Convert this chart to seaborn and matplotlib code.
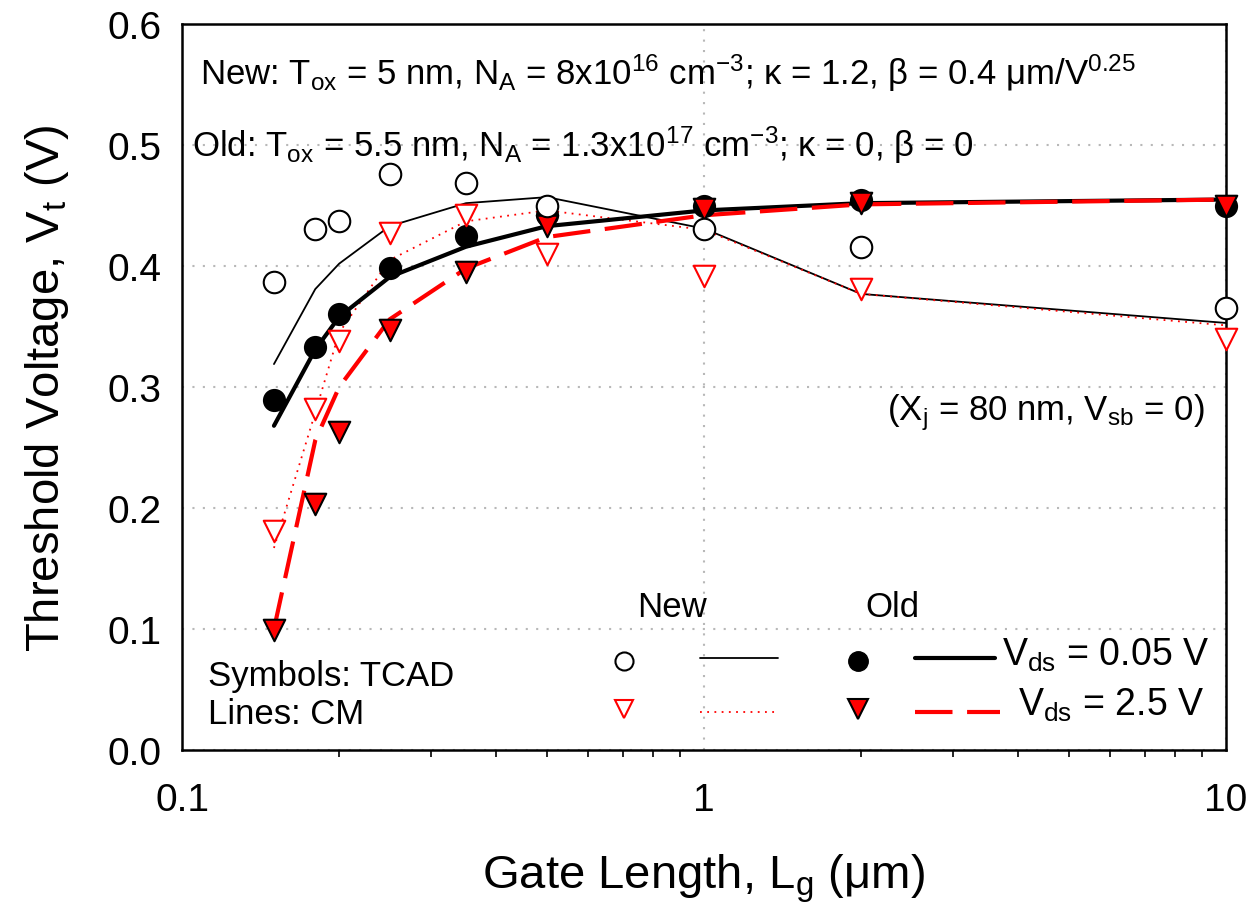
import numpy as np
import pandas as pd
import matplotlib
matplotlib.use("Agg")
import matplotlib.pyplot as plt
import matplotlib.ticker as mticker
import seaborn as sns

# ---------------- data ----------------
gate_length = [0.15, 0.18, 0.2, 0.25, 0.35, 0.5, 1.0, 2.0, 10.0]

# TCAD symbols
new_tcad_005 = [0.387, 0.431, 0.437, 0.476, 0.469, 0.450, 0.431, 0.416, 0.365]
new_tcad_25 = [0.181, 0.282, 0.338, 0.427, 0.442, 0.410, 0.392, 0.381, 0.340]
old_tcad_005 = [0.289, 0.333, 0.360, 0.398, 0.425, 0.442, 0.450, 0.455, 0.450]
old_tcad_25 = [0.099, 0.203, 0.263, 0.347, 0.395, 0.433, 0.447, 0.452, 0.450]

# CM lines
new_cm_005 = [0.319, 0.381, 0.402, 0.433, 0.452, 0.457, 0.431, 0.377, 0.353]
new_cm_25 = [0.167, 0.279, 0.345, 0.405, 0.437, 0.446, 0.430, 0.377, 0.351]
old_cm_005 = [0.268, 0.331, 0.358, 0.391, 0.416, 0.433, 0.446, 0.452, 0.455]
old_cm_25 = [0.100, 0.256, 0.300, 0.356, 0.398, 0.424, 0.442, 0.451, 0.455]

x_ticks = [0.1, 1, 10]
x_tick_labels = ["0.1", "1", "10"]
y_ticks = [0.0, 0.1, 0.2, 0.3, 0.4, 0.5, 0.6]
y_tick_labels = ["0.0", "0.1", "0.2", "0.3", "0.4", "0.5", "0.6"]

x_label = r"Gate Length, L$_\mathregular{g}$ (μm)"
y_label = r"Threshold Voltage, V$_\mathregular{t}$ (V)"
note_new = (r"New: T$_\mathregular{ox}$ = 5 nm, N$_\mathregular{A}$ = 8x10$^\mathregular{16}$ "
            r"cm$^\mathregular{−3}$; κ = 1.2, β = 0.4 μm/V$^\mathregular{0.25}$")
note_old = (r"Old: T$_\mathregular{ox}$ = 5.5 nm, N$_\mathregular{A}$ = 1.3x10$^\mathregular{17}$ "
            r"cm$^\mathregular{−3}$; κ = 0, β = 0")
note_cond = r"(X$_\mathregular{j}$ = 80 nm, V$_\mathregular{sb}$ = 0)"
legend_head = ["New", "Old"]
legend_vds = [r"V$_\mathregular{ds}$ = 0.05 V", r"V$_\mathregular{ds}$ = 2.5 V"]
legend_note = ["Symbols: TCAD", "Lines: CM"]

# ---------------- style ----------------
sns.set_style("white")
plt.rcParams["font.family"] = ["Liberation Sans", "DejaVu Sans"]
plt.rcParams["mathtext.fontset"] = "custom"
plt.rcParams["mathtext.rm"] = "Liberation Sans"
plt.rcParams["mathtext.it"] = "Liberation Sans:italic"
plt.rcParams["mathtext.bf"] = "Liberation Sans:bold"
plt.rcParams["axes.unicode_minus"] = True
plt.rcParams["text.color"] = "black"
plt.rcParams["axes.labelcolor"] = "black"
plt.rcParams["xtick.color"] = "black"
plt.rcParams["ytick.color"] = "black"

fig = plt.figure(figsize=(12.47, 9.2), dpi=100)
ax = fig.add_axes([0.146, 0.1837, 0.837, 0.789])

df = pd.DataFrame({
    "Lg": gate_length,
    "new_tcad_005": new_tcad_005, "new_tcad_25": new_tcad_25,
    "old_tcad_005": old_tcad_005, "old_tcad_25": old_tcad_25,
    "new_cm_005": new_cm_005, "new_cm_25": new_cm_25,
    "old_cm_005": old_cm_005, "old_cm_25": old_cm_25,
})

ax.set_axisbelow(True)

# lines (CM)
sns.lineplot(data=df, x="Lg", y="new_cm_005", ax=ax, color="black", lw=1.3,
             estimator=None, sort=False, zorder=3)
sns.lineplot(data=df, x="Lg", y="new_cm_25", ax=ax, color="red", lw=1.3,
             linestyle=(0, (1, 3)), estimator=None, sort=False, zorder=3)
sns.lineplot(data=df, x="Lg", y="old_cm_005", ax=ax, color="black", lw=3.0,
             estimator=None, sort=False, zorder=3)
sns.lineplot(data=df, x="Lg", y="old_cm_25", ax=ax, color="red", lw=3.0,
             linestyle=(0, (9, 3.5)), estimator=None, sort=False, zorder=3)

# symbols (TCAD)
ms = 240
sns.scatterplot(data=df, x="Lg", y="old_tcad_005", ax=ax, marker="o", s=ms,
                color="black", edgecolor="black", linewidth=1.2, zorder=4, clip_on=False)
sns.scatterplot(data=df, x="Lg", y="old_tcad_25", ax=ax, marker="v", s=ms,
                color="red", edgecolor="black", linewidth=1.5, zorder=5, clip_on=False)
sns.scatterplot(data=df, x="Lg", y="new_tcad_005", ax=ax, marker="o", s=ms,
                color="white", edgecolor="black", linewidth=1.5, zorder=6, clip_on=False)
sns.scatterplot(data=df, x="Lg", y="new_tcad_25", ax=ax, marker="v", s=ms,
                color="white", edgecolor="red", linewidth=1.5, zorder=6, clip_on=False)

# axes
ax.set_xscale("log")
ax.set_xlim(0.1, 10)
ax.set_ylim(0.0, 0.6)
ax.set_xticks(x_ticks)
ax.set_xticklabels(x_tick_labels)
ax.xaxis.set_minor_locator(mticker.LogLocator(base=10, subs=np.arange(2, 10)))
ax.xaxis.set_minor_formatter(mticker.NullFormatter())
ax.set_yticks(y_ticks)
ax.set_yticklabels(y_tick_labels)
ax.tick_params(axis="both", which="major", direction="out", length=9, width=1.5,
               labelsize=28, colors="black")
ax.tick_params(axis="x", which="minor", direction="out", length=5, width=1.2,
               bottom=True)
ax.tick_params(axis="x", which="major", pad=14)
ax.tick_params(axis="y", which="major", pad=6)
for sp in ax.spines.values():
    sp.set_color("black")
    sp.set_linewidth(1.8)
ax.yaxis.grid(True, linestyle=(0, (1, 4)), color="#b8b8b8", lw=1.5)
ax.xaxis.grid(True, which="major", linestyle=(0, (1, 4)), color="#b8b8b8", lw=1.5)
ax.set_xlabel(x_label, fontsize=34, labelpad=24)
ax.set_ylabel(y_label, fontsize=34, labelpad=26)

# annotations
fs = 25
ax.text(0.017, 0.934, note_new, transform=ax.transAxes, fontsize=fs, va="center", ha="left")
ax.text(0.0096, 0.835, note_old, transform=ax.transAxes, fontsize=fs, va="center", ha="left")
ax.text(0.98, 0.466, note_cond, transform=ax.transAxes, fontsize=fs, va="center", ha="right")

# custom legend
T = ax.transAxes
ax.text(0.469, 0.197, legend_head[0], transform=T, fontsize=fs, ha="center", va="center")
ax.text(0.681, 0.197, legend_head[1], transform=T, fontsize=fs, ha="center", va="center")
ax.text(0.025, 0.103, legend_note[0], transform=T, fontsize=fs, ha="left", va="center")
ax.text(0.025, 0.050, legend_note[1], transform=T, fontsize=fs, ha="left", va="center")
ax.plot([0.423], [0.1226], transform=T, marker="o", ms=13, mfc="white", mec="black", mew=1.5)
ax.plot([0.423], [0.0565], transform=T, marker="v", ms=13, mfc="white", mec="red", mew=1.5)
ax.plot([0.6475], [0.1226], transform=T, marker="o", ms=14, mfc="black", mec="black")
ax.plot([0.6475], [0.0565], transform=T, marker="v", ms=14, mfc="red", mec="black", mew=1.5)
ax.plot([0.496, 0.571], [0.127, 0.127], transform=T, color="black", lw=1.3)
ax.plot([0.496, 0.571], [0.052, 0.052], transform=T, color="red", lw=1.3, linestyle=(0, (1, 3)))
ax.plot([0.702, 0.779], [0.127, 0.127], transform=T, color="black", lw=3.0)
ax.plot([0.702, 0.784], [0.052, 0.052], transform=T, color="red", lw=3.0, linestyle=(0, (9, 3.5)))
ax.text(0.786, 0.132, legend_vds[0], transform=T, fontsize=27, ha="left", va="center")
ax.text(0.801, 0.063, legend_vds[1], transform=T, fontsize=27, ha="left", va="center")

fig.savefig("out.png", dpi=100)
